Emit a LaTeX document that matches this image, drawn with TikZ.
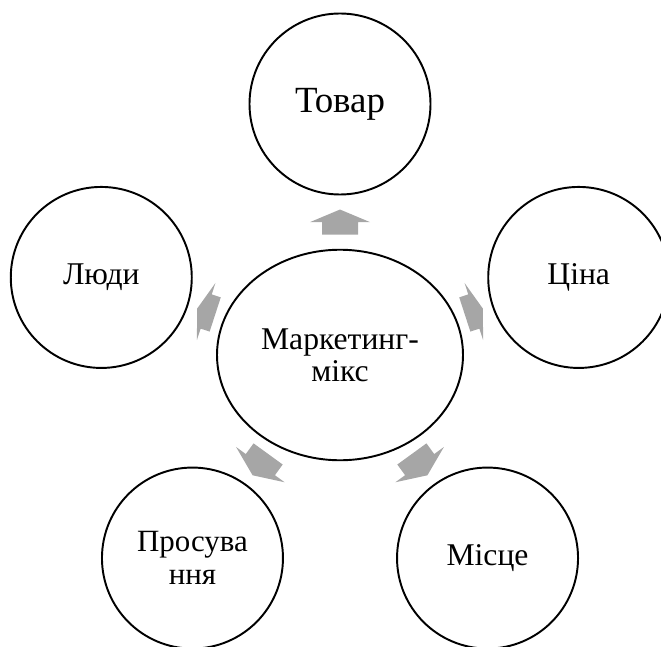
\documentclass[tikz,border=0pt]{standalone}
\usepackage{fontspec}
\setmainfont{Liberation Serif}
\usetikzlibrary{calc,shapes.geometric}

\definecolor{arrowgray}{HTML}{A6A6A6}
\tikzset{
  part/.style={circle, draw, line width=1.1pt, minimum size=36.2mm, inner sep=0pt,
    align=center, font=\fontsize{18}{20}\selectfont},
  hub/.style={ellipse, draw, line width=1.1pt, minimum width=49.2mm, minimum height=42.1mm,
    inner sep=0pt, align=center, font=\fontsize{18}{18.2}\selectfont},
  blockarrow/.style={fill=arrowgray}
}

\begin{document}
\begin{tikzpicture}[x=0.2mm, y=0.2mm]
  \useasboundingbox (-340,-291) rectangle (321,355);
  % centre and the five parts around it
  \node[hub] (mix) at (0,0) {Маркетинг-\\мікс};
  \node[part, font=\fontsize{21}{24}\selectfont] (product) at (90:251) {Товар};
  \node[part] (price) at (18:251) {Ціна};
  \node[part] (place) at (306:251) {Місце};
  \node[part, font=\fontsize{17.6}{18.8}\selectfont] (promo) at (234:251) {Просува\\ння};
  \node[part] (people) at (162:251) {Люди};
  % block arrows half way between the hub and each part
  \foreach \a/\n/\l in {90/product/12.6, 18/price/9.5, 306/place/13.2, 234/promo/13.2, 162/people/9.5} {
    \pgfmathtruncatemacro\b{\a+180}
    \coordinate (m-\n) at ($(mix.\a)!0.5!(\n.\b)$);
    \fill[blockarrow, shift={(m-\n)}, rotate=\a]
      (-\l,-18) -- (0,-18) -- (0,-30) -- (\l,0) -- (0,30) -- (0,18) -- (-\l,18) -- cycle;
  }
\end{tikzpicture}
\end{document}
